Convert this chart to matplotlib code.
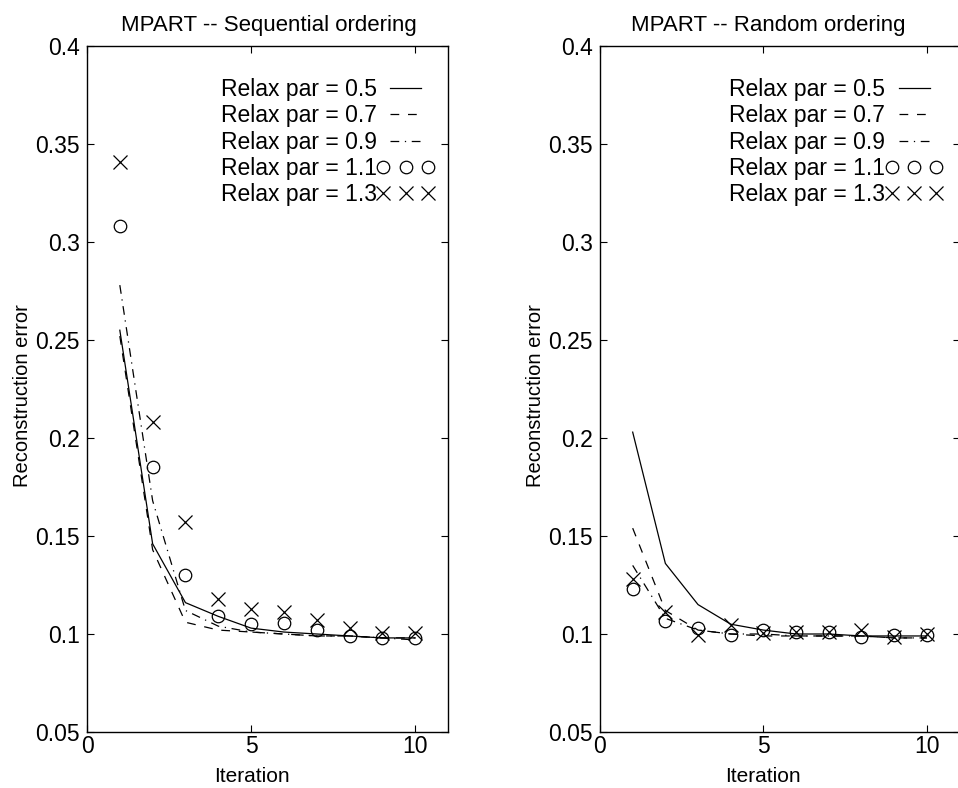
import numpy as np
import matplotlib.pyplot as plt
from matplotlib.legend_handler import HandlerLine2D

plt.rcParams['font.family'] = ['Liberation Sans', 'DejaVu Sans']
plt.rcParams['font.size'] = 16.5

iterations = [1, 2, 3, 4, 5, 6, 7, 8, 9, 10]
relax_labels = ['Relax par = 0.5', 'Relax par = 0.7', 'Relax par = 0.9',
                'Relax par = 1.1', 'Relax par = 1.3']

# sequential ordering
seq_05 = [0.255, 0.146, 0.116, 0.109, 0.103, 0.101, 0.100, 0.099, 0.098, 0.098]
seq_07 = [0.252, 0.143, 0.106, 0.102, 0.101, 0.100, 0.099, 0.099, 0.098, 0.098]
seq_09 = [0.278, 0.168, 0.112, 0.104, 0.101, 0.100, 0.099, 0.099, 0.098, 0.097]
seq_11 = [0.308, 0.185, 0.130, 0.109, 0.105, 0.1055, 0.102, 0.099, 0.098, 0.098]
seq_13 = [0.341, 0.208, 0.157, 0.118, 0.113, 0.111, 0.107, 0.103, 0.1005, 0.1005]

# random ordering
rnd_05 = [0.203, 0.136, 0.115, 0.105, 0.102, 0.100, 0.100, 0.099, 0.099, 0.099]
rnd_07 = [0.154, 0.112, 0.102, 0.100, 0.099, 0.099, 0.099, 0.099, 0.098, 0.098]
rnd_09 = [0.135, 0.108, 0.102, 0.100, 0.100, 0.099, 0.099, 0.099, 0.098, 0.098]
rnd_11 = [0.123, 0.1066, 0.103, 0.0995, 0.102, 0.101, 0.101, 0.0985, 0.0995, 0.0995]
rnd_13 = [0.128, 0.111, 0.0995, 0.1045, 0.1005, 0.101, 0.101, 0.102, 0.0985, 0.100]

titles = ['MPART -- Sequential ordering', 'MPART -- Random ordering']
yticks = [0.05, 0.1, 0.15, 0.2, 0.25, 0.3, 0.35, 0.4]
ytick_labels = ['0.05', '0.1', '0.15', '0.2', '0.25', '0.3', '0.35', '0.4']
xticks = [0, 5, 10]

fig = plt.figure(figsize=(9.58, 7.88), dpi=100)
ax1 = fig.add_axes([87 / 958, 56 / 788, 361 / 958, 686 / 788])
ax2 = fig.add_axes([600 / 958, 56 / 788, 359.5 / 958, 686 / 788])

lw = 0.9
for ax, data, title, title_x, leg_x, xl_x in [
        (ax1, [seq_05, seq_07, seq_09, seq_11, seq_13], titles[0], 0.505, 0.945, 0.457),
        (ax2, [rnd_05, rnd_07, rnd_09, rnd_11, rnd_13], titles[1], 0.467, 0.936, 0.453)]:
    ax.plot(iterations, data[0], color='black', lw=lw, ls='-', label=relax_labels[0])
    ax.plot(iterations, data[1], color='black', lw=lw, ls=(0, (7, 7)), label=relax_labels[1])
    ax.plot(iterations, data[2], color='black', lw=lw, ls=(0, (7, 4.5, 1, 4.5)), label=relax_labels[2])
    circ, = ax.plot(iterations, data[3], color='black', ls='none', marker='o', ms=9,
                    mfc='none', mew=0.9, label=relax_labels[3])
    crs, = ax.plot(iterations, data[4], color='black', ls='none', marker='x', ms=9.5,
                   mew=0.9, label=relax_labels[4])

    ax.set_xlim(0, 11)
    ax.set_ylim(0.05, 0.4)
    ax.set_xticks(xticks)
    ax.set_yticks(yticks)
    ax.set_yticklabels(ytick_labels)
    ax.tick_params(direction='in', length=5, width=0.8, top=True, right=True)
    ax.tick_params(axis='x', pad=2)
    ax.tick_params(axis='y', pad=5)
    for sp in ax.spines.values():
        sp.set_linewidth(1.0)

    ax.set_title(title, pad=11, fontsize=16, x=title_x)
    ax.set_xlabel('Iteration', fontsize=15)
    ax.set_ylabel('Reconstruction error', fontsize=14.5)
    ax.xaxis.set_label_coords(xl_x, -0.051)
    ax.yaxis.set_label_coords(-0.152, 0.49)

    ax.legend(loc='upper right', bbox_to_anchor=(leg_x, 0.953), frameon=False,
              markerfirst=False, numpoints=3, handlelength=1.95,
              handletextpad=0.3, labelspacing=0.14, borderpad=0,
              borderaxespad=0,
              handler_map={circ: HandlerLine2D(marker_pad=0),
                           crs: HandlerLine2D(marker_pad=0)})

fig.savefig('out.png', dpi=100)
